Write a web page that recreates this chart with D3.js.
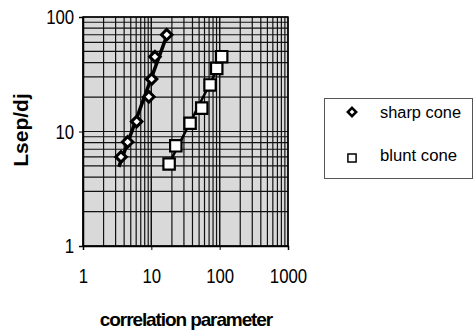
<!DOCTYPE html>
<html>
<head>
<meta charset="utf-8">
<script src="https://cdn.jsdelivr.net/npm/d3@7"></script>
<style>
  body { margin: 0; background: #fff; }
  svg text { font-family: Arial, "Liberation Sans", sans-serif; fill: #000; }
</style>
</head>
<body>
<svg id="canvas" width="474" height="333"></svg>
<script>
// values
let sharpX = [3.6, 4.5, 6.1, 9.2, 10.1, 11.3, 16.8]
let sharpY = [6.0, 8.1, 12.2, 20.1, 28.7, 45, 70]
let bluntX = [18.2, 22.8, 36.9, 54.7, 72.3, 90.6, 107]
let bluntY = [5.2, 7.5, 11.8, 16.0, 25.5, 35.6, 45]
let xTicks = [1, 10, 100, 1000]
let yTicks = [1, 10, 100]
let legendLabels = ['sharp cone', 'blunt cone']

let canvas = d3.select('#canvas')
let plotL = 83, plotR = 288, plotT = 17, plotB = 246

let xScale = d3.scaleLog().domain([1, 1000]).range([plotL, plotR])
let yScale = d3.scaleLog().domain([1, 100]).range([plotB, plotT])

// plot background (gray stipple)
canvas.append('rect')
  .attr('x', plotL).attr('y', plotT)
  .attr('width', plotR - plotL).attr('height', plotB - plotT)
  .attr('fill', '#d9d9d9')

// log grid, 2..9 inside every decade
let minor = (lo, hi) => {
  let out = []
  for (let d = lo; d < hi; d *= 10) {
    for (let k = 1; k <= 10; k++) out.push(d * k)
  }
  return out
}
canvas.append('g').selectAll('line')
  .data(minor(1, 1000))
  .enter().append('line')
  .attr('x1', d => xScale(d)).attr('x2', d => xScale(d))
  .attr('y1', plotT).attr('y2', plotB)
  .attr('stroke', '#111').attr('stroke-width', 1.2)
canvas.append('g').selectAll('line')
  .data(minor(1, 100))
  .enter().append('line')
  .attr('y1', d => yScale(d)).attr('y2', d => yScale(d))
  .attr('x1', plotL).attr('x2', plotR)
  .attr('stroke', '#111').attr('stroke-width', 1.2)

// axes (tick labels squeezed horizontally like the scan)
let xAxis = d3.axisBottom(xScale).tickValues(xTicks).tickFormat(d3.format('d')).tickSize(4).tickPadding(18)
let yAxis = d3.axisLeft(yScale).tickValues(yTicks).tickFormat(d3.format('d')).tickSize(4).tickPadding(7)
let gx = canvas.append('g').attr('transform', `translate(0,${plotB})`).call(xAxis)
let gy = canvas.append('g').attr('transform', `translate(${plotL},0)`).call(yAxis)
for (let g of [gx, gy]) {
  g.select('.domain').attr('stroke', '#000').attr('stroke-width', 1.5)
  g.selectAll('.tick line').attr('stroke', '#000')
  g.selectAll('.tick text').attr('font-size', 21).attr('transform', 'scale(0.8,1)')
}
canvas.append('rect')
  .attr('x', plotL).attr('y', plotT)
  .attr('width', plotR - plotL).attr('height', plotB - plotT)
  .attr('fill', 'none').attr('stroke', '#000').attr('stroke-width', 1.5)

// axis titles
canvas.append('text')
  .attr('x', 186).attr('y', 326)
  .attr('text-anchor', 'middle')
  .attr('font-size', 19).attr('font-weight', 'bold').attr('letter-spacing', -1.1)
  .text('correlation parameter')
canvas.append('text')
  .attr('transform', 'translate(28,130) rotate(-90)')
  .attr('text-anchor', 'middle')
  .attr('font-size', 21).attr('font-weight', 'bold')
  .text('Lsep/dj')

// power-law trend line (least squares in log space)
let trend = (xs, ys) => {
  let lx = xs.map(Math.log10), ly = ys.map(Math.log10)
  let mx = d3.mean(lx), my = d3.mean(ly)
  let b = d3.sum(lx.map((v, i) => (v - mx) * (ly[i] - my))) / d3.sum(lx.map(v => (v - mx) ** 2))
  let a = my - b * mx
  let x0 = d3.min(xs) * 0.93, x1 = d3.max(xs)
  return [[x0, 10 ** (a + b * Math.log10(x0))], [x1, 10 ** (a + b * Math.log10(x1))]]
}
let line = d3.line().x(d => xScale(d[0])).y(d => yScale(d[1]))

let sharp = sharpX.map((x, i) => [x, sharpY[i]])
let blunt = bluntX.map((x, i) => [x, bluntY[i]])

canvas.append('path').attr('d', line(trend(sharpX, sharpY)))
  .attr('stroke', '#000').attr('stroke-width', 3.5).attr('fill', 'none')
canvas.append('path').attr('d', line(trend(bluntX, bluntY)))
  .attr('stroke', '#000').attr('stroke-width', 2.5).attr('fill', 'none')

let diamond = d3.symbol().type(d3.symbolDiamond2).size(70)
let square = d3.symbol().type(d3.symbolSquare2).size(165)

canvas.append('g').selectAll('path')
  .data(sharp).enter().append('path')
  .attr('d', diamond)
  .attr('transform', d => `translate(${xScale(d[0])},${yScale(d[1])})`)
  .attr('fill', '#fff').attr('stroke', '#000').attr('stroke-width', 3)
canvas.append('g').selectAll('path')
  .data(blunt).enter().append('path')
  .attr('d', square)
  .attr('transform', d => `translate(${xScale(d[0])},${yScale(d[1])})`)
  .attr('fill', '#fff').attr('stroke', '#000').attr('stroke-width', 2.2)

// legend
let legend = canvas.append('g')
legend.append('rect')
  .attr('x', 324.5).attr('y', 98.5).attr('width', 148).attr('height', 80)
  .attr('fill', '#fff').attr('stroke', '#555').attr('stroke-width', 1)
legend.append('path').attr('d', d3.symbol().type(d3.symbolDiamond2).size(45))
  .attr('transform', 'translate(352,112)')
  .attr('fill', '#fff').attr('stroke', '#000').attr('stroke-width', 2.5)
legend.append('path').attr('d', d3.symbol().type(d3.symbolSquare2).size(85))
  .attr('transform', 'translate(352,158)')
  .attr('fill', '#fff').attr('stroke', '#000').attr('stroke-width', 1.5)
legend.selectAll('text.lbl')
  .data(legendLabels).enter().append('text')
  .attr('class', 'lbl')
  .attr('x', 380).attr('y', (d, i) => 118 + i * 43)
  .attr('font-size', 16)
  .attr('textLength', (d, i) => i === 0 ? 81 : 77)
  .attr('lengthAdjust', 'spacingAndGlyphs')
  .text(d => d)
</script>
</body>
</html>
